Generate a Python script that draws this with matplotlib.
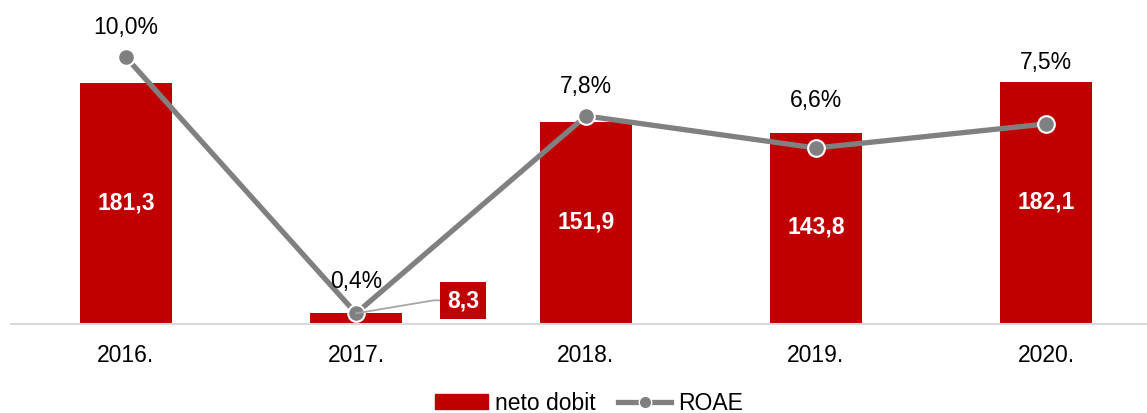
import matplotlib.pyplot as plt
from matplotlib.lines import Line2D
from matplotlib.patches import Patch

plt.rcParams['font.family'] = ['Liberation Sans', 'DejaVu Sans']

years = ['2016.', '2017.', '2018.', '2019.', '2020.']
neto_dobit = [181.3, 8.3, 151.9, 143.8, 182.1]
roae = [10.0, 0.4, 7.8, 6.6, 7.5]

RED = '#C00000'
GREY = '#808080'

W, H = 1147, 414
fig = plt.figure(figsize=(W / 100, H / 100), dpi=100)
# axes in pixel terms: left 11, bottom 89, width 1150, height 300
ax = fig.add_axes([11 / W, 89 / H, 1150 / W, 300 / H])
ax2 = ax.twinx()

x = list(range(len(years)))
ax.bar(x, neto_dobit, width=0.4, color=RED, zorder=2)
ax.set_xlim(-0.5, 4.5)
ax.set_ylim(0, 300 / 1.329)
ax2.set_ylim(0, 300 / 26.67)

for s in ['top', 'right', 'left']:
    ax.spines[s].set_visible(False)
    ax2.spines[s].set_visible(False)
ax2.spines['bottom'].set_visible(False)
ax.spines['bottom'].set_color('#D9D9D9')
ax.spines['bottom'].set_linewidth(1.5)
ax.set_yticks([])
ax2.set_yticks([])
ax.set_xticks(x)
ax.set_xticklabels(years, fontsize=16.5)
ax.tick_params(axis='x', length=0, pad=14)

ax2.plot(x, roae, color=GREY, lw=3.8, marker='o', ms=12,
         mfc=GREY, mec='white', mew=1.5, zorder=3, solid_capstyle='butt')

# bar value labels (white, inside bars)
for i, v in enumerate(neto_dobit):
    if v > 50:
        ax.text(i, v / 2 + 1.5, f'{v:.1f}'.replace('.', ','), color='white',
                fontsize=16.5, fontweight='bold', ha='center', va='center', zorder=4)

# small bar label in a red box with leader line
i_small = 1
ax2.annotate(f'{neto_dobit[i_small]:.1f}'.replace('.', ','),
             xy=(i_small, roae[i_small]), xycoords='data',
             xytext=(107, 13), textcoords='offset pixels',
             color='white', fontsize=16.5, fontweight='bold', ha='center', va='center',
             bbox=dict(boxstyle='square,pad=0.3', fc=RED, ec='none'),
             arrowprops=dict(arrowstyle='-', color='#A6A6A6', lw=1.3,
                             connectionstyle='angle,angleA=0,angleB=9.5,rad=0',
                             shrinkA=0, shrinkB=0),
             zorder=5)

# percentage labels above points
lab_offset = [31, 33, 30, 48, 62]
for i, v in enumerate(roae):
    ax2.annotate(f'{v:.1f}%'.replace('.', ','), xy=(i, v), xytext=(0, lab_offset[i]),
                 textcoords='offset pixels', ha='center', va='center', fontsize=16.5)

handles = [Patch(color=RED, label='neto dobit'),
           Line2D([], [], color=GREY, lw=3.8, marker='o', ms=9, mfc=GREY,
                  mec='white', mew=1, label='ROAE')]
fig.legend(handles=handles, loc='center', bbox_to_anchor=(0.5135, 10 / H), ncol=2,
           frameon=False, fontsize=16.5, handlelength=2.3, handleheight=0.6,
           handletextpad=0.3, columnspacing=1.0)

fig.savefig('out.png', dpi=100)
